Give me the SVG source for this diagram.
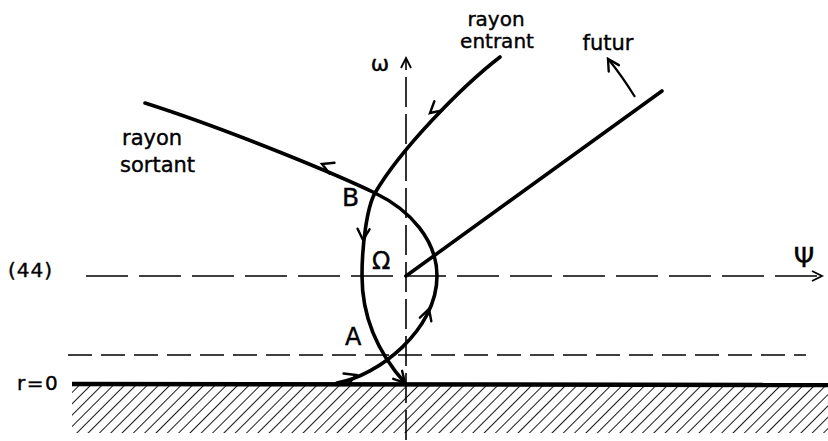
<svg xmlns="http://www.w3.org/2000/svg" xmlns:xlink="http://www.w3.org/1999/xlink" width="828" height="441" viewBox="0 0 828 441">
<style>
.t{font-family:"DejaVu Sans","Liberation Sans",sans-serif;fill:#000;stroke:#000;stroke-width:0.4}
.axis{fill:none;stroke:#000;stroke-width:1.6}
.curve{fill:none;stroke:#000;stroke-width:3.6;stroke-linecap:round}
</style>
<defs>
<path id="ah" d="M-11,-6 L0,0 L-11,6" fill="none" stroke="#000" stroke-width="2.4" stroke-linecap="round"/>
<path id="ahs" d="M-10,-5 L0,0 L-10,5" fill="none" stroke="#000" stroke-width="1.8"/>
<pattern id="hatch" width="8" height="8" patternUnits="userSpaceOnUse" patternTransform="rotate(45)">
<line x1="0" y1="0" x2="0" y2="8" stroke="#000" stroke-width="1.8"/>
</pattern>
</defs>
<rect width="828" height="441" fill="#fff"/>
<g id="ground">
<rect x="72" y="386" width="756" height="47" fill="url(#hatch)"/>
<line x1="72" y1="384" x2="828" y2="385" stroke="#000" stroke-width="4.5"/>
</g>
<g id="axes">
<line class="axis" x1="406" y1="440" x2="406" y2="60" stroke-dasharray="30,7"/>
<use href="#ahs" transform="translate(406,58) rotate(-90)"/>
<line class="axis" x1="86" y1="276" x2="820" y2="276" stroke-dasharray="42,11"/>
<use href="#ahs" transform="translate(822,276)"/>
<line class="axis" x1="68" y1="355" x2="806" y2="355" stroke-dasharray="24,9"/>
</g>
<g id="connectors">
<path id="entrant" class="curve" d="M500,57 C460,88 400,150 375,193 C367,207 362,245 362,276 C362,320 380,355 405,383"/>
<path id="sortant" class="curve" d="M337,383 C378,376 437,330 437,276 C437,240 410,210 375,193 C340,176 230,130 145,103"/>
<line id="futur" class="curve" x1="406" y1="276" x2="662" y2="91"/>
<path d="M635,97 Q622,76 609,60" fill="none" stroke="#000" stroke-width="2.2"/>
<use href="#ah" transform="translate(608,59) rotate(-122)"/>
<use href="#ah" transform="translate(430,113) rotate(139)"/>
<use href="#ah" transform="translate(363,240) rotate(93)"/>
<use href="#ah" transform="translate(405,383) rotate(48)"/>
<use href="#ah" transform="translate(356,375) rotate(-22)"/>
<use href="#ah" transform="translate(429,309) rotate(-72)"/>
<use href="#ah" transform="translate(322,164) rotate(-157)"/>
</g>
<g id="labels">
<text class="t" x="496" y="26" font-size="20" text-anchor="middle">rayon</text>
<text class="t" x="497" y="48" font-size="20" text-anchor="middle">entrant</text>
<text class="t" x="608" y="50" font-size="21" text-anchor="middle">futur</text>
<text class="t" x="122" y="145" font-size="21">rayon</text>
<text class="t" x="120" y="172" font-size="21">sortant</text>
<text class="t" x="380" y="71" font-size="22" text-anchor="middle">ω</text>
<text class="t" x="342" y="206" font-size="25">B</text>
<text class="t" x="372" y="269" font-size="24" font-family="DejaVu Serif,serif">Ω</text>
<text class="t" x="345" y="345" font-size="24">A</text>
<text class="t" x="804" y="267" font-size="26" text-anchor="middle">Ψ</text>
<text class="t" x="8" y="277" font-size="20" letter-spacing="1">(44)</text>
<text class="t" x="17" y="390" font-size="20" letter-spacing="1.5">r=0</text>
</g>
</svg>
